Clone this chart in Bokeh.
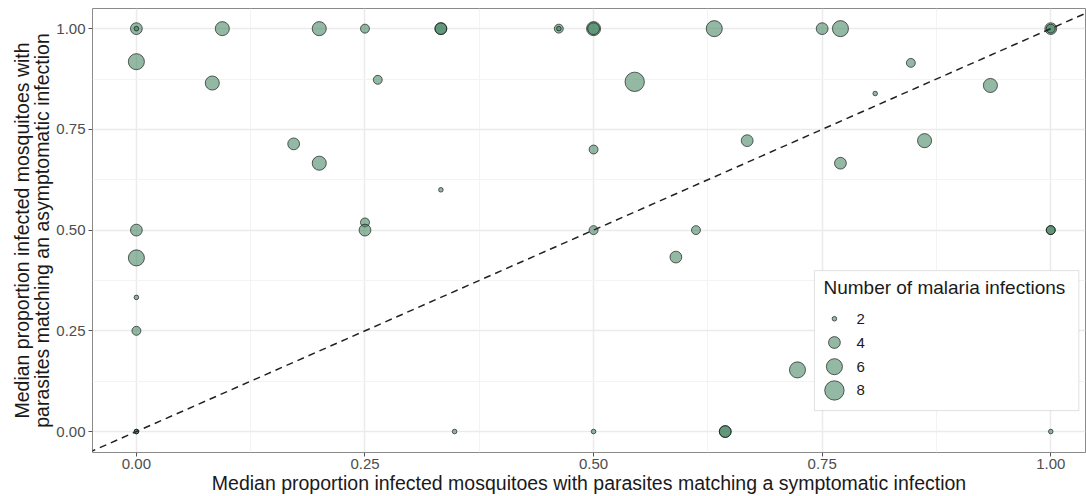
import numpy as np
from bokeh.plotting import figure
from bokeh.models import (Range1d, FixedTicker, NumeralTickFormatter, Slope,
                          BoxAnnotation, Label, ColumnDataSource)
from bokeh.embed import file_html
from bokeh.resources import INLINE

# ---- data ----
sym = [0.0, 0.0, 0.094, 0.2, 0.25, 0.333, 0.333, 0.462, 0.462, 0.5, 0.5, 0.632,
       0.75, 0.77, 1.0, 1.0,
       0.0, 0.083, 0.264, 0.172, 0.2, 0.333, 0.25, 0.25, 0.0, 0.0, 0.0, 0.0,
       0.0, 0.0, 0.348, 0.545, 0.5, 0.668, 0.5, 0.612, 0.847, 0.808, 0.934,
       0.862, 0.77, 1.0, 1.0, 0.59, 0.723, 0.5, 0.644, 0.644, 1.0]
asym = [1.0, 1.0, 1.0, 1.0, 1.0, 1.0, 1.0, 1.0, 1.0, 1.0, 1.0, 1.0,
        1.0, 1.0, 1.0, 1.0,
        0.918, 0.865, 0.873, 0.714, 0.666, 0.6, 0.519, 0.5, 0.5, 0.431, 0.333, 0.25,
        0.0, 0.0, 0.0, 0.868, 0.7, 0.722, 0.5, 0.5, 0.915, 0.839, 0.859,
        0.722, 0.666, 0.5, 0.5, 0.433, 0.153, 0.0, 0.0, 0.0, 0.0]
n_inf = [4, 2, 5, 5, 3, 4, 4, 3, 2, 5, 4, 6,
         4, 6, 4, 3,
         6, 5, 3, 4, 5, 2, 3, 4, 4, 6, 2, 3,
         2, 2, 2, 8, 3, 4, 3, 3, 3, 2, 5,
         5, 4, 3, 3, 4, 6, 2, 4, 4, 2]

legend_values = [2, 4, 6, 8]
tick_values = [0.0, 0.25, 0.5, 0.75, 1.0]
minor_values = [0.125, 0.375, 0.625, 0.875]

x_label = "Median proportion infected mosquitoes with parasites matching a symptomatic infection"
y_label = "Median proportion infected mosquitoes with\nparasites matching an asymptomatic infection"
legend_title = "Number of malaria infections"


def size_scale(v):
    # area-proportional size scale (diameter in px)
    v = np.asarray(v, dtype=float)
    return 2 * np.sqrt(5.3 + 14.8 * (v - 2))


FONT = "Liberation Sans"
FILL = "#3b7d5a"
FILL_ALPHA = 0.55

p = figure(width=1086, height=496, output_backend="svg", toolbar_location=None,
           x_range=Range1d(-0.048, 1.038), y_range=Range1d(-0.052, 1.05),
           min_border_left=92, min_border_right=1, min_border_top=8,
           min_border_bottom=44)
p.background_fill_color = "white"
p.border_fill_color = "white"
p.outline_line_color = "#8a8a8a"
p.outline_line_width = 1

for ax in (p.xaxis[0], p.yaxis[0]):
    ax.ticker = FixedTicker(ticks=tick_values, minor_ticks=minor_values)
    ax.formatter = NumeralTickFormatter(format="0.00")
    ax.axis_line_color = None
    ax.major_tick_line_color = "#555555"
    ax.major_tick_in = 0
    ax.major_tick_out = 4
    ax.minor_tick_line_color = None
    ax.major_label_text_font = FONT
    ax.major_label_text_font_size = "15px"
    ax.major_label_text_color = "#4d4d4d"
    ax.axis_label_text_font = FONT
    ax.axis_label_text_font_size = "19.5px"
    ax.axis_label_text_font_style = "normal"
    ax.axis_label_text_color = "#1a1a1a"

p.xaxis.axis_label = x_label
p.yaxis.axis_label = y_label
p.yaxis.axis_label_text_line_height = 0.9
p.xaxis.major_label_standoff = 2
p.yaxis.major_label_standoff = 3
p.xaxis.axis_label_standoff = 0
p.yaxis.axis_label_standoff = 0

for g in (p.xgrid[0], p.ygrid[0]):
    g.grid_line_color = "#ebebeb"
    g.grid_line_width = 1.5
    g.minor_grid_line_color = "#f3f3f3"
    g.minor_grid_line_width = 1

# legend box (drawn beneath glyphs, above grid)
box = BoxAnnotation(left=0.7415, right=1.0307, top=0.3995, bottom=0.052,
                    fill_color="white", fill_alpha=1.0,
                    line_color="#9a9a9a", line_width=1, level="underlay")
p.add_layout(box)

# diagonal reference line y = x
p.add_layout(Slope(gradient=1, y_intercept=0, line_color="#222222",
                   line_width=1.5, line_dash="7 5"))

src = ColumnDataSource(dict(x=sym, y=asym, n=n_inf, s=size_scale(n_inf)))
p.scatter("x", "y", size="s", source=src, marker="circle",
          fill_color=FILL, fill_alpha=FILL_ALPHA,
          line_color="black", line_alpha=0.6, line_width=1)

# legend keys
leg_y = [0.280, 0.221, 0.161, 0.102]
leg_src = ColumnDataSource(dict(x=[0.7634] * 4, y=leg_y,
                                s=size_scale(legend_values),
                                lab=[str(v) for v in legend_values]))
p.scatter("x", "y", size="s", source=leg_src, marker="circle",
          fill_color=FILL, fill_alpha=FILL_ALPHA,
          line_color="black", line_alpha=0.6, line_width=1)
for yy, v in zip(leg_y, legend_values):
    p.add_layout(Label(x=0.7875, y=yy, text=str(v), text_baseline="middle",
                       text_font=FONT, text_font_size="15px",
                       text_color="#1a1a1a"))
p.add_layout(Label(x=0.7514, y=0.3575, text=legend_title, text_baseline="middle",
                   text_font=FONT, text_font_size="19px", text_color="#1a1a1a"))

open("out.html", "w").write(file_html(p, INLINE))
